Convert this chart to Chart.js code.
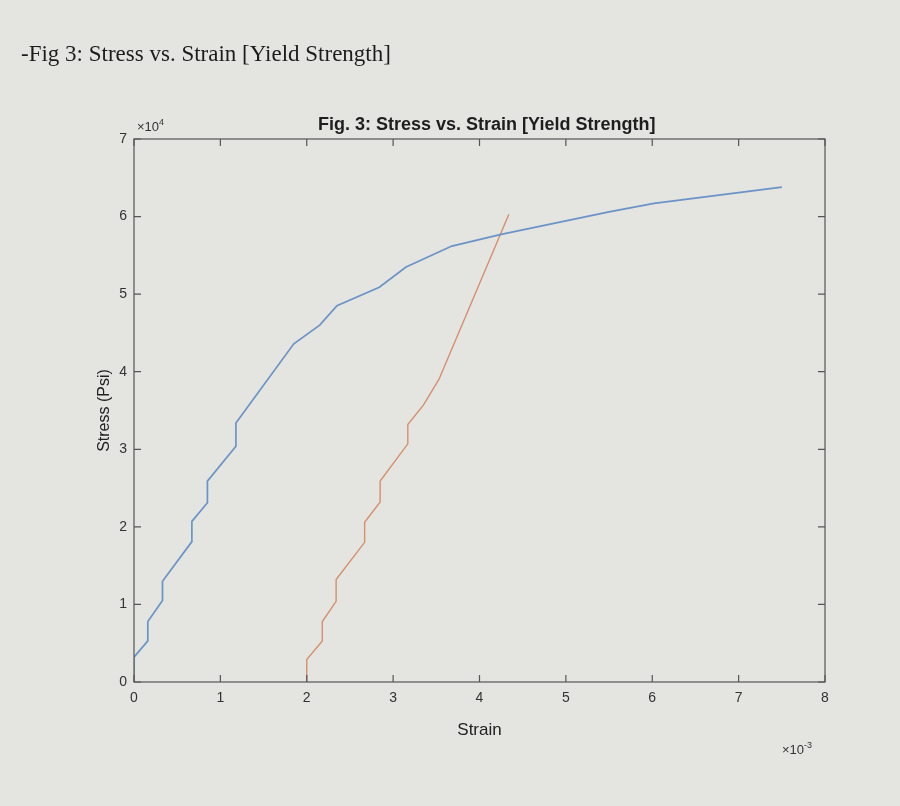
<!DOCTYPE html>
<html>
<head>
<meta charset="utf-8">
<script src="https://cdn.jsdelivr.net/npm/chart.js@4.4.1/dist/chart.umd.min.js"></script>
<style>
  html, body { margin: 0; padding: 0; background: #e4e4e1; }
  #wrap { position: relative; width: 900px; height: 806px; overflow: hidden; }
  #c { position: absolute; left: 0; top: 0; }
  .txt { position: absolute; color: #222; white-space: nowrap; }
  #header { left: 21px; top: 41px; font-family: "Liberation Serif", "Times New Roman", serif; font-size: 23px; color: #1c1c1c; }
  #ctitle { left: 318px; top: 114px; font-family: "Liberation Sans", Arial, sans-serif; font-weight: bold; font-size: 18px; color: #1e1e1e; }
  #ymul { left: 137px; top: 117px; font-family: "Liberation Sans", Arial, sans-serif; font-size: 13px; color: #333; }
  #xmul { left: 782px; top: 740px; font-family: "Liberation Sans", Arial, sans-serif; font-size: 13px; color: #333; }
  sup { font-size: 9px; vertical-align: 6px; }
</style>
</head>
<body>
<div id="wrap">
  <canvas id="c" width="900" height="806"></canvas>
  <div class="txt" id="header">-Fig 3: Stress vs. Strain [Yield Strength]</div>
  <div class="txt" id="ctitle">Fig. 3: Stress vs. Strain [Yield Strength]</div>
  <div class="txt" id="ymul">×10<sup>4</sup></div>
  <div class="txt" id="xmul">×10<sup>-3</sup></div>
</div>
<script>
// Strain (in/in) and stress (psi)
const measuredStrain = [0, 0, 0.00016, 0.00016, 0.00033, 0.00033, 0.00067, 0.00067, 0.00085, 0.00085,
  0.00118, 0.00118, 0.00185, 0.00215, 0.00235, 0.00284, 0.00315, 0.00368, 0.00425, 0.00550, 0.00602, 0.00750];
const measuredStress = [0, 3200, 5300, 7800, 10500, 13000, 18100, 20700, 23100, 25900,
  30400, 33400, 43600, 46000, 48500, 50900, 53500, 56200, 57700, 60600, 61700, 63800];

const offsetStrain = [0.00200, 0.00200, 0.00218, 0.00218, 0.00234, 0.00234, 0.00267, 0.00267, 0.00285, 0.00285,
  0.00317, 0.00317, 0.00335, 0.00353, 0.00434];
const offsetStress = [0, 2900, 5300, 7800, 10400, 13200, 18000, 20600, 23200, 25900,
  30700, 33200, 35700, 39000, 60300];

const xTickValues = [0, 0.001, 0.002, 0.003, 0.004, 0.005, 0.006, 0.007, 0.008];
const yTickValues = [0, 10000, 20000, 30000, 40000, 50000, 60000, 70000];

function pts(xs, ys) { return xs.map((x, i) => ({ x: x, y: ys[i] })); }

const boxPlugin = {
  id: 'matlabBox',
  afterDraw(chart) {
    const { ctx, chartArea: a, scales: { x, y } } = chart;
    ctx.save();
    ctx.strokeStyle = '#555555';
    ctx.lineWidth = 1.2;
    ctx.strokeRect(a.left, a.top, a.right - a.left, a.bottom - a.top);
    ctx.beginPath();
    const tl = 7;
    xTickValues.forEach(v => {
      const px = x.getPixelForValue(v);
      ctx.moveTo(px, a.bottom); ctx.lineTo(px, a.bottom - tl);
      ctx.moveTo(px, a.top); ctx.lineTo(px, a.top + tl);
    });
    yTickValues.forEach(v => {
      const py = y.getPixelForValue(v);
      ctx.moveTo(a.left, py); ctx.lineTo(a.left + tl, py);
      ctx.moveTo(a.right, py); ctx.lineTo(a.right - tl, py);
    });
    ctx.stroke();
    ctx.restore();
  }
};

new Chart(document.getElementById('c'), {
  type: 'line',
  data: {
    datasets: [
      { label: 'Stress vs. Strain', data: pts(measuredStrain, measuredStress),
        borderColor: '#6b94c6', borderWidth: 1.7, pointRadius: 0, tension: 0, fill: false },
      { label: '0.2% offset', data: pts(offsetStrain, offsetStress),
        borderColor: '#d68f6c', borderWidth: 1.4, pointRadius: 0, tension: 0, fill: false }
    ]
  },
  options: {
    responsive: false,
    animation: false,
    devicePixelRatio: 1,
    layout: { padding: { left: 0, top: 139, right: 75, bottom: 0 } },
    plugins: { legend: { display: false }, tooltip: { enabled: false }, title: { display: false } },
    scales: {
      x: {
        type: 'linear', min: 0, max: 0.008,
        afterBuildTicks(s) { s.ticks = xTickValues.map(v => ({ value: v })); },
        afterFit(s) { s.height = 124; },
        grid: { display: false, drawTicks: false },
        border: { display: false },
        ticks: { padding: 8, color: '#333', font: { family: 'Liberation Sans', size: 14 },
          callback: v => String(Math.round(v * 1000)) },
        title: { display: true, text: 'Strain', color: '#222',
          font: { family: 'Liberation Sans', size: 17 }, padding: { top: 0, bottom: 65 } }
      },
      y: {
        type: 'linear', min: 0, max: 70000,
        afterBuildTicks(s) { s.ticks = yTickValues.map(v => ({ value: v })); },
        afterFit(s) { s.width = 134; },
        grid: { display: false, drawTicks: false },
        border: { display: false },
        ticks: { padding: 7, color: '#333', font: { family: 'Liberation Sans', size: 14 },
          callback: v => String(Math.round(v / 10000)) },
        title: { display: true, text: 'Stress (Psi)', color: '#222',
          font: { family: 'Liberation Sans', size: 16 }, padding: { top: 95, bottom: 0 } }
      }
    }
  },
  plugins: [boxPlugin]
});
</script>
</body>
</html>
